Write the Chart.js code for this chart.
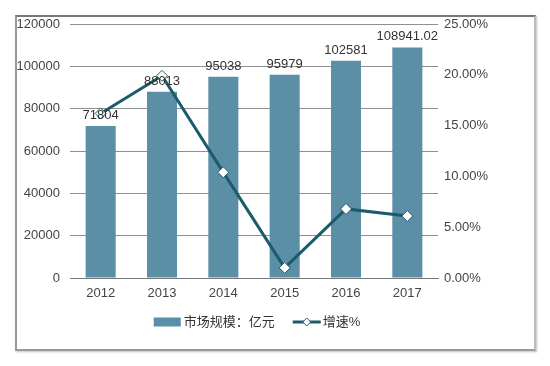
<!DOCTYPE html>
<html>
<head>
<meta charset="utf-8">
<script src="https://cdn.jsdelivr.net/npm/chart.js@4"></script>
<style>
  body { margin: 0; background: #fff; }
  #wrap { position: relative; width: 550px; height: 366px; }
  #frame {
    position: absolute; left: 15px; top: 15px; width: 517px; height: 332px;
    border-top: 2px solid #777; border-left: 2px solid #999;
    border-right: 2px solid #bbb; border-bottom: 2px solid #999;
    box-shadow: 1px 1px 2px rgba(0,0,0,0.25);
  }
  canvas { position: absolute; left: 0; top: 0; }
</style>
</head>
<body>
<div id="wrap">
  <div id="frame"></div>
  <canvas id="chart" width="550" height="366"></canvas>
</div>
<script>
const years = ['2012', '2013', '2014', '2015', '2016', '2017'];
const marketSize = [71804, 88013, 95038, 95979, 102581, 108941.02];
const sizeLabels = ['71804', '88013', '95038', '95979', '102581', '108941.02'];
const growth = [16.2, 19.9, 10.4, 1.0, 6.8, 6.1];

const barColor = '#5a8fa5';
const lineColor = '#1b5b6b';
const font = 'Arial, "Liberation Sans", "Noto Sans CJK SC", sans-serif';

// value labels above bars, on top of everything
const barLabels = {
  id: 'barLabels',
  afterDatasetsDraw(chart) {
    const ctx = chart.ctx;
    const meta = chart.getDatasetMeta(1);
    ctx.save();
    ctx.font = '13px ' + font;
    ctx.fillStyle = '#333';
    ctx.textAlign = 'center';
    ctx.textBaseline = 'bottom';
    meta.data.forEach((bar, i) => {
      ctx.fillText(sizeLabels[i], bar.x, bar.y - 4);
    });
    ctx.restore();
  }
};

// legend drawn below the axis: box for bars, line + diamond for growth
const customLegend = {
  id: 'customLegend',
  afterDraw(chart) {
    const ctx = chart.ctx;
    const y = 322;
    ctx.save();
    ctx.font = '13px ' + font;
    ctx.textBaseline = 'middle';
    const t1 = '市场规模：亿元', t2 = '增速%';
    const w1 = ctx.measureText(t1).width, w2 = ctx.measureText(t2).width;
    const total = 27 + 3 + w1 + 18 + 28 + 2 + w2;
    let x = (chart.chartArea.left + chart.chartArea.right) / 2 + 3 - total / 2;
    ctx.fillStyle = barColor;
    ctx.fillRect(x, y - 4.5, 27, 9);
    x += 30;
    ctx.fillStyle = '#333';
    ctx.fillText(t1, x, y);
    x += w1 + 18;
    ctx.strokeStyle = lineColor;
    ctx.lineWidth = 3;
    ctx.beginPath();
    ctx.moveTo(x, y);
    ctx.lineTo(x + 28, y);
    ctx.stroke();
    const cx = x + 14;
    ctx.beginPath();
    ctx.moveTo(cx, y - 4); ctx.lineTo(cx + 4, y); ctx.lineTo(cx, y + 4); ctx.lineTo(cx - 4, y);
    ctx.closePath();
    ctx.fillStyle = '#fff';
    ctx.fill();
    ctx.lineWidth = 1;
    ctx.stroke();
    x += 30;
    ctx.fillStyle = '#333';
    ctx.fillText(t2, x, y);
    ctx.restore();
  }
};

new Chart(document.getElementById('chart').getContext('2d'), {
  data: {
    labels: years,
    datasets: [
      {
        type: 'line',
        label: '增速%',
        data: growth,
        yAxisID: 'y1',
        borderColor: lineColor,
        borderWidth: 3,
        pointStyle: 'rectRot',
        pointRadius: 5.5,
        pointBackgroundColor: '#fff',
        pointBorderColor: lineColor,
        pointBorderWidth: 1,
        tension: 0,
        order: 0
      },
      {
        type: 'bar',
        label: '市场规模：亿元',
        data: marketSize,
        yAxisID: 'y',
        backgroundColor: barColor,
        categoryPercentage: 1,
        barPercentage: 0.49,
        order: 1
      }
    ]
  },
  options: {
    responsive: false,
    animation: false,
    layout: { padding: { top: 24, bottom: 58, left: 0, right: 0 } },
    plugins: { legend: { display: false }, tooltip: { enabled: false } },
    scales: {
      x: {
        grid: { display: false, drawTicks: false },
        border: { color: '#777' },
        ticks: { color: '#444', font: { size: 13, family: font }, padding: 8 },
        afterFit(s) { s.height = 30; }
      },
      y: {
        position: 'left',
        min: 0, max: 120000,
        ticks: {
          stepSize: 20000, color: '#444', font: { size: 13, family: font }, padding: 10,
          callback: v => String(v)
        },
        grid: { color: '#8f8f8f', drawTicks: false },
        border: { display: false },
        afterFit(s) { s.width = 70; }
      },
      y1: {
        position: 'right',
        min: 0, max: 25,
        ticks: {
          stepSize: 5, color: '#444', font: { size: 13, family: font }, padding: 6,
          callback: v => v.toFixed(2) + '%'
        },
        grid: { display: false, drawTicks: false },
        border: { display: false },
        afterFit(s) { s.width = 112; }
      }
    }
  },
  plugins: [barLabels, customLegend]
});
</script>
</body>
</html>
